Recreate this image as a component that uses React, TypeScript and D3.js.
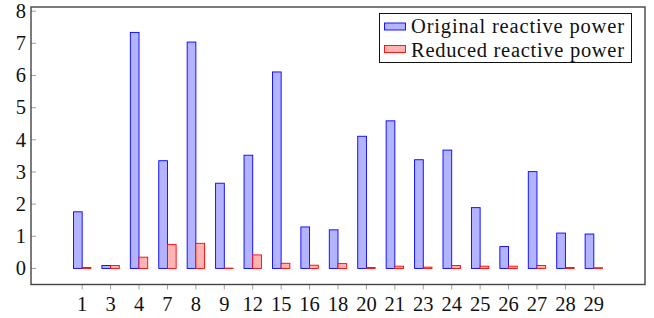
import * as d3 from "d3";

const buses = ["1", "3", "4", "7", "8", "9", "12", "15", "16", "18", "20", "21", "23", "24", "25", "26", "27", "28", "29"];
const original = [1.76, 0.09, 7.34, 3.35, 7.04, 2.65, 3.52, 6.11, 1.29, 1.2, 4.11, 4.59, 3.38, 3.68, 1.89, 0.68, 3.01, 1.1, 1.07];
const reduced = [0.03, 0.09, 0.35, 0.74, 0.78, 0.01, 0.42, 0.16, 0.1, 0.15, 0.03, 0.07, 0.04, 0.09, 0.07, 0.07, 0.09, 0.03, 0.02];
const yTicks = [0, 1, 2, 3, 4, 5, 6, 7, 8];
const legendLabels = ["Original reactive power", "Reduced reactive power"];

const w = 654;
const h = 318;
const left = 31, right = 645, top = 7, bottom = 284.5;
const font = "Liberation Serif";

// scales
const xScale = d3.scalePoint().domain(buses).range([left, right]).padding(1.8);
const yScale = d3.scaleLinear().domain([-0.5, 8.13]).range([bottom, top]);
const bw = 8.7;

const colors = [
  ["#b3b3ff", "#0000ff"],
  ["#ffb3b3", "#ff0000"],
];

function App() {
  const y0 = yScale(0);
  return (
    <svg width={w} height={h} style={{ position: "absolute", left: 0, top: 0, fontFamily: font }}>
      {/* bars */}
      {buses.map((b, i) => (
        <g key={b}>
          <rect
            x={xScale(b)! - bw}
            y={yScale(original[i])}
            width={bw}
            height={y0 - yScale(original[i])}
            fill={colors[0][0]}
            stroke={colors[0][1]}
            strokeWidth={0.9}
          />
          <rect
            x={xScale(b)!}
            y={yScale(reduced[i])}
            width={bw}
            height={y0 - yScale(reduced[i])}
            fill={colors[1][0]}
            stroke={colors[1][1]}
            strokeWidth={0.9}
          />
        </g>
      ))}

      {/* y ticks */}
      {yTicks.map((t) => (
        <g key={t} transform={`translate(0,${yScale(t)})`}>
          <line x1={left} x2={left + 5} stroke="#888" strokeWidth={0.8} />
          <text x={left - 5} dy="0.33em" textAnchor="end" fill="#111" style={{ fontFamily: font, fontSize: 20.5 }}>
            {t}
          </text>
        </g>
      ))}

      {/* x ticks */}
      {buses.map((b) => (
        <g key={b} transform={`translate(${xScale(b)},0)`}>
          <line y1={bottom} y2={bottom + 5} stroke="#888" strokeWidth={0.8} />
          <text y={bottom + 26} textAnchor="middle" fill="#111" style={{ fontFamily: font, fontSize: 20.5 }}>
            {b}
          </text>
        </g>
      ))}

      {/* frame */}
      <rect x={left} y={top} width={right - left} height={bottom - top} fill="none" stroke="#444" strokeWidth={1.4} />

      {/* legend */}
      <rect x={379.5} y={13.5} width={252} height={49} fill="white" stroke="#111" strokeWidth={1} />
      {legendLabels.map((label, i) => {
        const cy = 26.5 + i * 22.5;
        return (
          <g key={label}>
            <rect
              x={384.5}
              y={cy - 3.5}
              width={21}
              height={7}
              fill={colors[i][0]}
              stroke={colors[i][1]}
              strokeWidth={0.9}
            />
            <text
              x={411}
              y={33 + i * 23.5}
              fill="#111"
              textLength={213}
              lengthAdjust="spacing"
              style={{ fontFamily: font, fontSize: 20.5 }}
            >
              {label}
            </text>
          </g>
        );
      })}
    </svg>
  );
}

export default App;
